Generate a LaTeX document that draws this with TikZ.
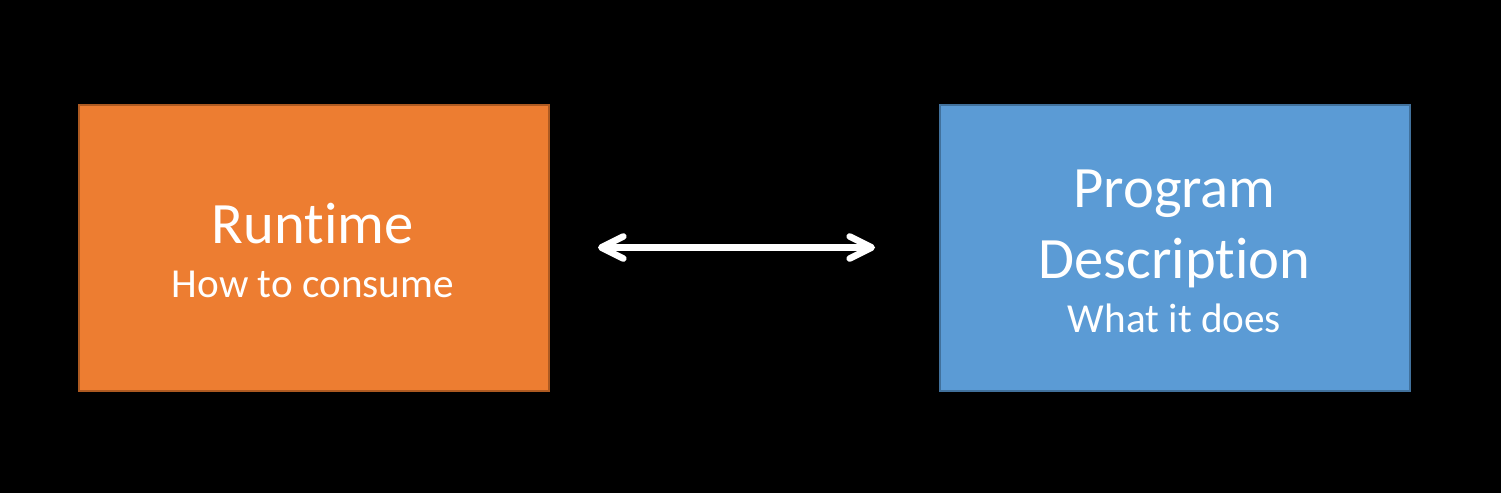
\documentclass[tikz,border=0pt]{standalone}
\usepackage{fontspec}
\setmainfont{Carlito}[Ligatures=NoCommon]
\usetikzlibrary{arrows.meta}
\definecolor{boxorange}{HTML}{ED7D31}
\definecolor{edgeorange}{HTML}{AE5A21}
\definecolor{boxblue}{HTML}{5B9BD5}
\definecolor{edgeblue}{HTML}{41719C}
\tikzset{
  block/.style={draw, line width=1pt, minimum width=235pt, minimum height=143pt, inner sep=0pt},
  title/.style={text=white, anchor=base, inner sep=0pt, font=\fontsize{29.3}{35}\selectfont},
  subtitle/.style={text=white, anchor=base, inner sep=0pt, font=\fontsize{20.6}{24}\selectfont},
  barb/.tip={Straight Barb[length=11pt,width=11pt,round]},
}
\begin{document}
\begin{tikzpicture}[x=0.5pt,y=-0.5pt]
\fill[black] (0,0) rectangle (1501,493);

\node[block, fill=boxorange, draw=edgeorange] (runtime) at (313.5,247.5) {};
\node[block, fill=boxblue, draw=edgeblue] (progdesc) at (1174.5,247.5) {};

\node[title] (rtname) at (312.5,243) {Runtime};
\node[subtitle] (rtnote) at (313,297) {How to consume};
\node[title] (pdname1) at (1174.5,207) {Program};
\node[title] (pdname2) at (1174.5,278) {Description};
\node[subtitle] (pdnote) at (1174.5,332) {What it does};

\path[draw, white, line width=3.3pt, barb-barb, shorten <=24.25pt, shorten >=31.75pt] (runtime.east) -- (progdesc.west);
\end{tikzpicture}
\end{document}
